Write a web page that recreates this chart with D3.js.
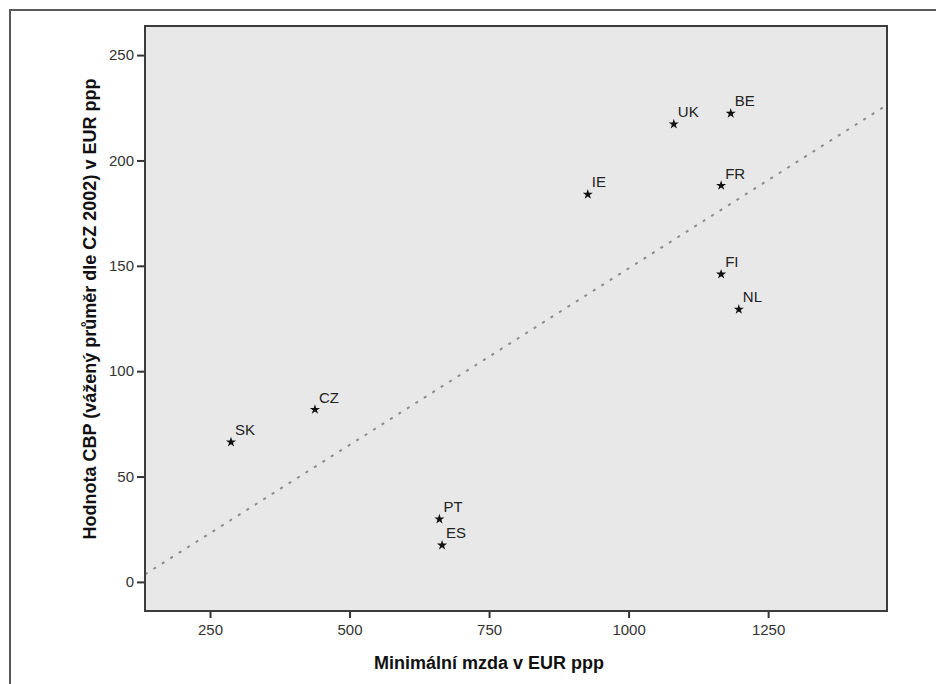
<!DOCTYPE html>
<html>
<head>
<meta charset="utf-8">
<script src="https://cdn.jsdelivr.net/npm/d3@7"></script>
<style>
  html, body { margin: 0; padding: 0; background: #ffffff; }
  svg { display: block; }
  text { font-family: "Liberation Sans", Arial, sans-serif; }
</style>
</head>
<body>
<svg id="chart" width="936" height="684"></svg>
<script>
// Country codes and their values
const countries = ["SK", "CZ", "PT", "ES", "IE", "UK", "BE", "FR", "FI", "NL"];
const minWage   = [287.6, 438, 661, 665.8, 926.9, 1081, 1183, 1165.8, 1165.8, 1197.5];
const cbpValue  = [66.3, 81.8, 29.8, 17.4, 183.9, 217.2, 222.3, 188.1, 146, 129.3];

const xTicks = [250, 500, 750, 1000, 1250];
const yTicks = [0, 50, 100, 150, 200, 250];

const xTitle = "Minimální mzda v EUR ppp";
const yTitle = "Hodnota CBP (vážený průměr dle CZ 2002) v EUR ppp";

const svg = d3.select("#chart");

const plot = { left: 145, top: 26, right: 887, bottom: 611 };

const x = d3.scaleLinear().domain([133.5, 1463]).range([plot.left, plot.right]);
const y = d3.scaleLinear().domain([-13.8, 263.8]).range([plot.bottom, plot.top]);

// outer frame (left and top edges)
svg.append("path")
  .attr("d", `M10,684 L10,10 L936,10`)
  .attr("fill", "none")
  .attr("stroke", "#5a5a5a")
  .attr("stroke-width", 2);

// plot background
svg.append("rect")
  .attr("x", plot.left).attr("y", plot.top)
  .attr("width", plot.right - plot.left)
  .attr("height", plot.bottom - plot.top)
  .attr("fill", "#e8e8e8");

// least-squares fit line
const n = minWage.length;
const mx = d3.mean(minWage), my = d3.mean(cbpValue);
let sxy = 0, sxx = 0;
for (let i = 0; i < n; i++) {
  sxy += (minWage[i] - mx) * (cbpValue[i] - my);
  sxx += (minWage[i] - mx) ** 2;
}
const slope = sxy / sxx;
const intercept = my - slope * mx;
const [x0, x1] = x.domain();

svg.append("defs").append("clipPath").attr("id", "plotClip")
  .append("rect")
  .attr("x", plot.left).attr("y", plot.top)
  .attr("width", plot.right - plot.left)
  .attr("height", plot.bottom - plot.top);

svg.append("line")
  .attr("clip-path", "url(#plotClip)")
  .attr("x1", x(x0)).attr("y1", y(intercept + slope * x0))
  .attr("x2", x(x1)).attr("y2", y(intercept + slope * x1))
  .attr("stroke", "#8c8c8c")
  .attr("stroke-width", 2)
  .attr("stroke-dasharray", "3,7");

// axes
const xAxis = svg.append("g")
  .attr("transform", `translate(0,${plot.bottom})`)
  .call(d3.axisBottom(x).tickValues(xTicks).tickSize(7).tickPadding(6).tickFormat(d3.format("d")));
const yAxis = svg.append("g")
  .attr("transform", `translate(${plot.left},0)`)
  .call(d3.axisLeft(y).tickValues(yTicks).tickSize(8).tickPadding(3).tickFormat(d3.format("d")));

[xAxis, yAxis].forEach(g => {
  g.select(".domain").remove();
  g.selectAll(".tick line").attr("stroke", "#333").attr("stroke-width", 2);
  g.selectAll(".tick text")
    .attr("fill", "#333")
    .style("font-family", "'Liberation Sans', Arial, sans-serif")
    .style("font-size", "15px");
});

// plot frame
svg.append("rect")
  .attr("x", plot.left).attr("y", plot.top)
  .attr("width", plot.right - plot.left)
  .attr("height", plot.bottom - plot.top)
  .attr("fill", "none")
  .attr("stroke", "#3c3c3c")
  .attr("stroke-width", 2);

// points
const star = d3.symbol().type(d3.symbolStar).size(32);
const pts = svg.append("g");
countries.forEach((c, i) => {
  const px = x(minWage[i]), py = y(cbpValue[i]);
  pts.append("path")
    .attr("d", star())
    .attr("transform", `translate(${px},${py})`)
    .attr("fill", "#111");
  pts.append("text")
    .attr("x", px + 4)
    .attr("y", py - 7)
    .attr("fill", "#222")
    .style("font-size", "15px")
    .text(c);
});

// axis titles
svg.append("text")
  .attr("x", 489)
  .attr("y", 669)
  .attr("text-anchor", "middle")
  .attr("fill", "#111")
  .style("font-size", "18px")
  .style("font-weight", "bold")
  .text(xTitle);

svg.append("text")
  .attr("transform", `translate(96,309) rotate(-90)`)
  .attr("text-anchor", "middle")
  .attr("fill", "#111")
  .style("font-size", "18px")
  .style("font-weight", "bold")
  .text(yTitle);
</script>
</body>
</html>
